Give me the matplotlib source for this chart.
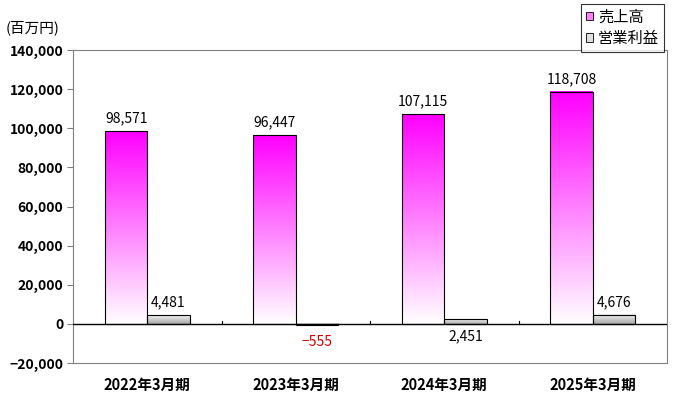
import numpy as np
import matplotlib
matplotlib.use("Agg")
import matplotlib.pyplot as plt
from matplotlib.colors import LinearSegmentedColormap
from matplotlib.patches import Rectangle
from matplotlib.ticker import FuncFormatter

plt.rcParams['font.family'] = ['Noto Sans CJK JP', 'DejaVu Sans']

# データ
categories = ['2022年3月期', '2023年3月期', '2024年3月期', '2025年3月期']
sales = [98571, 96447, 107115, 118708]
profit = [4481, -555, 2451, 4676]
sales_labels = ['98,571', '96,447', '107,115', '118,708']
profit_labels = ['4,481', '−555', '2,451', '4,676']
series_names = ['売上高', '営業利益']
yticks = [-20000, 0, 20000, 40000, 60000, 80000, 100000, 120000, 140000]

sales_cmap = LinearSegmentedColormap.from_list('sales', ['#FFFFFF', '#FF80FF', '#FF00FF'])
profit_cmap = LinearSegmentedColormap.from_list('profit', ['#A8A8A8', '#F2F2F2'])

fig = plt.figure(figsize=(6.83, 3.96), dpi=100)
ax = fig.add_axes([0.107, 0.0833, 0.8696, 0.7904])

bar_w = 0.285
x = np.arange(len(categories))
grad = np.linspace(0, 1, 256).reshape(-1, 1)


def gradient_bar(x0, y0, y1, cmap):
    lo, hi = min(y0, y1), max(y0, y1)
    ax.imshow(grad, cmap=cmap, origin='lower', aspect='auto',
              extent=[x0, x0 + bar_w, lo, hi], zorder=2, interpolation='bicubic')
    ax.add_patch(Rectangle((x0, lo), bar_w, hi - lo, fill=False,
                           edgecolor='black', linewidth=0.8, zorder=3))


for i in range(len(categories)):
    gradient_bar(x[i] - bar_w, 0, sales[i], sales_cmap)
    gradient_bar(x[i], 0, profit[i], profit_cmap)

# 値ラベル
for i in range(len(categories)):
    ax.annotate(sales_labels[i], (x[i] - bar_w / 2, sales[i]), xytext=(0, 4),
                textcoords='offset points', ha='center', va='bottom', fontsize=10)
    if profit[i] < 0:
        ax.annotate(profit_labels[i], (x[i] + bar_w / 2, profit[i]), xytext=(0, -7),
                    textcoords='offset points', ha='center', va='top',
                    fontsize=10, color='#CC0000')
    elif i == 2:
        ax.annotate(profit_labels[i], (x[i] + bar_w / 2, 0), xytext=(0, -4),
                    textcoords='offset points', ha='center', va='top', fontsize=10)
    else:
        ax.annotate(profit_labels[i], (x[i] + bar_w / 2, profit[i]), xytext=(0, 4),
                    textcoords='offset points', ha='center', va='bottom', fontsize=10)

# ゼロ線と区切り
ax.axhline(0, color='black', linewidth=1.0, zorder=4)
for b in x[:-1] + 0.5:
    ax.plot([b, b], [0, 1500], color='black', linewidth=0.8, zorder=4)

ax.set_xlim(-0.5, len(categories) - 0.5)
ax.set_ylim(-20000, 140000)
ax.set_yticks(yticks)
ax.yaxis.set_major_formatter(FuncFormatter(lambda v, p: f'{int(v):,}'.replace('-', '−')))
ax.set_xticks(x)
ax.set_xticklabels(categories, fontsize=10.5, fontweight='bold')
ax.tick_params(axis='x', length=0, pad=10)
ax.tick_params(axis='y', length=4, color='#808080', labelsize=10, pad=3)
for lab in ax.get_yticklabels():
    lab.set_fontweight('bold')
for s in ax.spines.values():
    s.set_color('#808080')
    s.set_linewidth(0.8)

fig.text(0.008, 0.93, '(百万円)', fontsize=10.5, va='center', ha='left')

# 凡例
handles = [Rectangle((0, 0), 1, 1, facecolor='#FF80FF', edgecolor='black', linewidth=0.6),
           Rectangle((0, 0), 1, 1, facecolor='#E0E0E0', edgecolor='black', linewidth=0.6)]
leg = fig.legend(handles, series_names, loc='upper left', bbox_to_anchor=(0.851, 0.99),
                 fontsize=11, frameon=True, fancybox=False, edgecolor='black',
                 handlelength=0.5, handleheight=0.5, handletextpad=0.3,
                 borderpad=0.3, labelspacing=0.3, borderaxespad=0.0)
leg.get_frame().set_linewidth(0.8)

fig.savefig('out.png', dpi=100)
